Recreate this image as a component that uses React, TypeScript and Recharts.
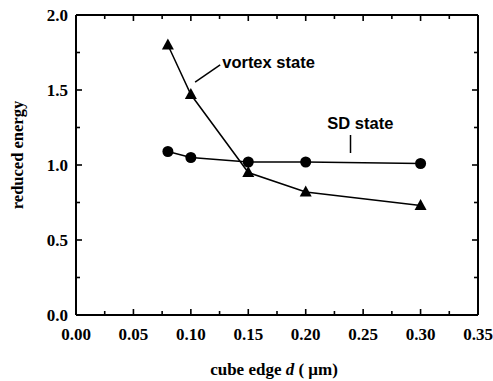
import React from "react";
import {
  LineChart,
  Line,
  XAxis,
  YAxis,
  ReferenceLine,
  ReferenceDot,
  Label,
} from "recharts";

const edges = [0.08, 0.1, 0.15, 0.2, 0.3];
const vortexEnergy = [1.8, 1.47, 0.95, 0.82, 0.73];
const sdEnergy = [1.09, 1.05, 1.02, 1.02, 1.01];

const xTicks = [0, 0.025, 0.05, 0.075, 0.1, 0.125, 0.15, 0.175, 0.2, 0.225, 0.25, 0.275, 0.3, 0.325, 0.35];
const xLabels = [0, 0.05, 0.1, 0.15, 0.2, 0.25, 0.3, 0.35];
const yTicks = [0, 0.25, 0.5, 0.75, 1, 1.25, 1.5, 1.75, 2];
const yLabels = [0, 0.5, 1, 1.5, 2];

const data = edges.map((d, i) => ({ d, vortex: vortexEnergy[i], sd: sdEnergy[i] }));

const serif = "Liberation Serif";
const sans = "Liberation Sans";
const PLOT_W = 402;
const isMajor = (v: number, list: number[]) => list.some((l) => Math.abs(l - v) < 1e-9);

const BottomTick = (props: any) => {
  const { x, y, payload } = props;
  const major = isMajor(payload.value, xLabels);
  return (
    <g>
      <line x1={x} x2={x} y1={y} y2={y - (major ? 6 : 4)} stroke="#000" strokeWidth={1.6} />
      {major && (
        <text x={x} y={y + 25} textAnchor="middle" fontFamily={serif} fontWeight="bold" fontSize={17} fill="#000">
          {payload.value.toFixed(2)}
        </text>
      )}
    </g>
  );
};

const TopTick = (props: any) => {
  const { x, y, payload } = props;
  const major = isMajor(payload.value, xLabels);
  return <line x1={x} x2={x} y1={y} y2={y + (major ? 6 : 4)} stroke="#000" strokeWidth={1.6} />;
};

const LeftTick = (props: any) => {
  const { x, y, payload } = props;
  const major = isMajor(payload.value, yLabels);
  const len = major ? 6 : 4;
  return (
    <g>
      <line x1={x} x2={x + len} y1={y} y2={y} stroke="#000" strokeWidth={1.6} />
      <line x1={x + PLOT_W} x2={x + PLOT_W - len} y1={y} y2={y} stroke="#000" strokeWidth={1.6} />
      {major && (
        <text x={x - 8} y={y + 6} textAnchor="end" fontFamily={serif} fontWeight="bold" fontSize={17} fill="#000">
          {payload.value.toFixed(1)}
        </text>
      )}
    </g>
  );
};

const Triangle = (props: any) => {
  const { cx, cy } = props;
  if (cx == null || cy == null) return null;
  return <polygon points={`${cx},${cy - 6.5} ${cx - 6},${cy + 4.5} ${cx + 6},${cy + 4.5}`} fill="#000" />;
};

const Circle = (props: any) => {
  const { cx, cy } = props;
  if (cx == null || cy == null) return null;
  return <circle cx={cx} cy={cy} r={5.5} fill="#000" />;
};

const annText = (text: string) => (props: any) => {
  const vb = props.viewBox || {};
  return (
    <text x={vb.x} y={vb.y + 6} textAnchor="start" fontFamily={sans} fontWeight="bold" fontSize={16.5} fill="#000">
      {text}
    </text>
  );
};

export default function App() {
  return (
    <div style={{ position: "absolute", left: 0, top: 0, width: 493, height: 381, background: "#fff" }}>
      <LineChart width={493} height={381} data={data} margin={{ top: 5, right: 15, bottom: 0, left: 0 }}>
        <XAxis dataKey="d" type="number" domain={[0, 0.35]} ticks={xTicks} interval={0} tickSize={0} tickMargin={0} tickLine={false} tick={<BottomTick />} height={66} axisLine={{ stroke: "#000", strokeWidth: 2 }}>
          <Label content={() => (<text x={274} y={375} textAnchor="middle" fontFamily={serif} fontWeight="bold" fontSize={17} fill="#000">cube edge <tspan fontStyle="italic">d</tspan>{"  "}( μm)</text>)} />
        </XAxis>
        <XAxis xAxisId="top" orientation="top" dataKey="d" type="number" domain={[0, 0.35]} ticks={xTicks} interval={0} tickSize={0} tickMargin={0} tickLine={false} tick={<TopTick />} height={10} axisLine={{ stroke: "#000", strokeWidth: 2 }} />
        <YAxis type="number" domain={[0, 2]} ticks={yTicks} interval={0} tickSize={0} tickMargin={0} tickLine={false} tick={<LeftTick />} width={76} axisLine={{ stroke: "#000", strokeWidth: 2 }}>
          <Label content={() => (<text x={17} y={155} transform="rotate(-90, 17, 155)" textAnchor="middle" dominantBaseline="central" fontFamily={serif} fontWeight="bold" fontSize={16.5} fill="#000">reduced energy</text>)} />
        </YAxis>
        <ReferenceLine x={0.35} stroke="#000" strokeWidth={2} />
        <ReferenceLine segment={[{ x: 0.1037, y: 1.553 }, { x: 0.1255, y: 1.667 }]} stroke="#000" strokeWidth={1.5} />
        <ReferenceLine segment={[{ x: 0.239, y: 1.2 }, { x: 0.239, y: 1.08 }]} stroke="#000" strokeWidth={1.5} />
        <ReferenceDot x={0.1273} y={1.687} r={0.01} fill="none" stroke="none" label={annText("vortex state")} />
        <ReferenceDot x={0.2188} y={1.28} r={0.01} fill="none" stroke="none" label={annText("SD state")} />
        <Line dataKey="sd" stroke="#000" strokeWidth={1.5} dot={<Circle />} activeDot={false} isAnimationActive={false} />
        <Line dataKey="vortex" stroke="#000" strokeWidth={1.5} dot={<Triangle />} activeDot={false} isAnimationActive={false} />
      </LineChart>
    </div>
  );
}
